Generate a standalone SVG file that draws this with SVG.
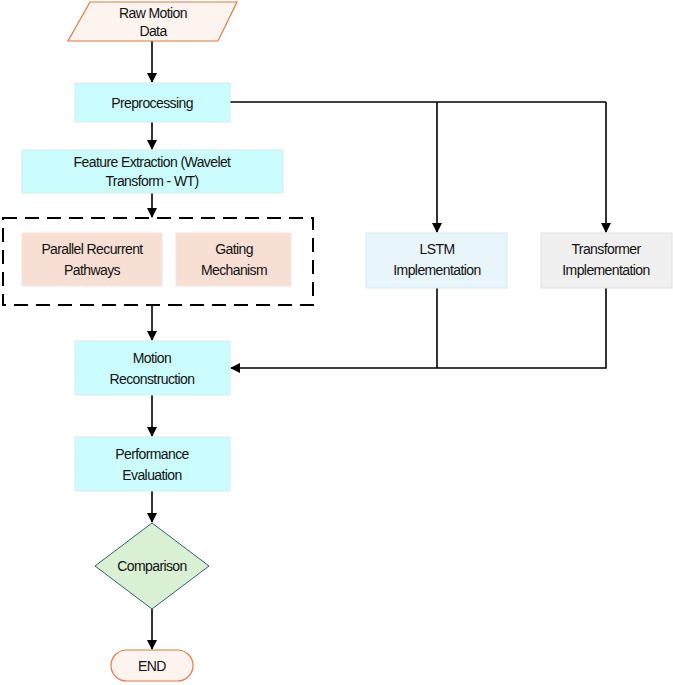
<svg xmlns="http://www.w3.org/2000/svg" width="673" height="685" viewBox="0 0 673 685">
<style>
text{font-family:"Liberation Sans",Arial,sans-serif;font-size:14px;fill:#111;text-anchor:middle;letter-spacing:-0.6px}
.c{fill:#ccfdfe;stroke:#d6eaea;stroke-width:1}
.p{fill:#f8dfd3;stroke:#f3e6e0}
.e{stroke:#000;stroke-width:1.6;fill:none;marker-end:url(#a)}
.l{stroke:#000;stroke-width:1.6;fill:none}
</style>
<defs><marker id="a" markerWidth="10" markerHeight="10" refX="9" refY="5" orient="auto" markerUnits="userSpaceOnUse"><path d="M0,0 L10,5 L0,10 z" fill="#000"/></marker></defs>
<rect width="673" height="685" fill="#fff"/>
<g id="connectors">
<path class="e" d="M152,41 V82"/>
<path class="e" d="M152,122 V149"/>
<path class="e" d="M152,193 V217"/>
<path class="e" d="M152,305 V340"/>
<path class="e" d="M152,395 V436"/>
<path class="e" d="M152,491 V522"/>
<path class="e" d="M152,609 V649"/>
<path class="l" d="M230,102 H606"/>
<path class="e" d="M606,102 V232"/>
<path class="e" d="M437,102 V232"/>
<path class="l" d="M437,288 V368"/>
<path class="l" d="M606,288 V368 H437"/>
<path class="e" d="M437,368 H231"/>
</g>
<g id="raw"><path d="M90,2 H237 L218,41 H68 Z" fill="#fdf3ef" stroke="#e07b45" stroke-width="1.2"/><text x="153" y="18">Raw Motion</text><text x="153" y="36">Data</text></g>
<g id="pre"><rect class="c" x="75" y="83" width="155" height="39"/><text x="152" y="108">Preprocessing</text></g>
<g id="feat"><rect class="c" x="22" y="150" width="261" height="43"/><text x="152" y="167">Feature Extraction (Wavelet</text><text x="152" y="186">Transform - WT)</text></g>
<g id="group"><rect x="3" y="218" width="310" height="87" fill="none" stroke="#000" stroke-width="2" stroke-dasharray="14,8"/></g>
<g id="prp"><rect class="p" x="22" y="233" width="140" height="53"/><text x="92" y="254">Parallel Recurrent</text><text x="92" y="275">Pathways</text></g>
<g id="gate"><rect class="p" x="176" y="233" width="115" height="53"/><text x="234" y="254">Gating</text><text x="234" y="275">Mechanism</text></g>
<g id="lstm"><rect x="366" y="233" width="141" height="55" fill="#e8f5fb" stroke="#dbe9ef"/><text x="437" y="254">LSTM</text><text x="437" y="275">Implementation</text></g>
<g id="trans"><rect x="541" y="233" width="131" height="55" fill="#f0f0f0" stroke="#e2e2e2"/><text x="606" y="254">Transformer</text><text x="606" y="275">Implementation</text></g>
<g id="motion"><rect class="c" x="75" y="341" width="155" height="54"/><text x="152" y="363">Motion</text><text x="152" y="384">Reconstruction</text></g>
<g id="perf"><rect class="c" x="75" y="437" width="155" height="54"/><text x="152" y="459">Performance</text><text x="152" y="480">Evaluation</text></g>
<g id="cmp"><path d="M152,523 L209,566 L152,609 L95,566 Z" fill="#d9f0d3" stroke="#2f5f7a" stroke-width="1"/><text x="152" y="571">Comparison</text></g>
<g id="end"><rect x="111" y="650" width="82" height="31" rx="15.5" fill="#fdf3ef" stroke="#e07b45" stroke-width="1.2"/><text x="152" y="671">END</text></g>
</svg>
